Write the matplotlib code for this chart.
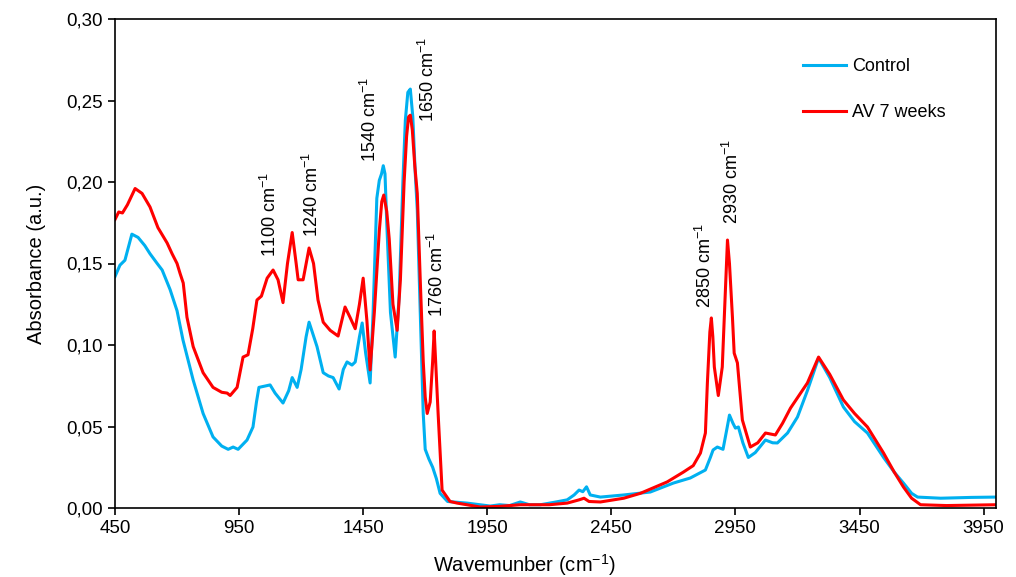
import matplotlib
matplotlib.use('Agg')
import matplotlib.pyplot as plt
from matplotlib.ticker import FuncFormatter

plt.rcParams['font.family'] = ['Liberation Sans', 'DejaVu Sans']
plt.rcParams['mathtext.fontset'] = 'custom'
plt.rcParams['mathtext.rm'] = 'Liberation Sans'
plt.rcParams['mathtext.it'] = 'Liberation Sans:italic'
plt.rcParams['mathtext.bf'] = 'Liberation Sans:bold'

# Control spectrum (wavenumber, absorbance)
wn_control = [450, 470, 490, 518, 543, 570, 591, 620, 640, 672, 700, 724, 765, 805, 845,
              880, 906, 926, 946, 982, 1006, 1020, 1030, 1060, 1075, 1095, 1127, 1150, 1164,
              1184, 1200, 1220, 1232, 1264, 1289, 1310, 1329, 1353, 1370, 1385, 1405, 1418,
              1435, 1446, 1460, 1478, 1490, 1505, 1515, 1524, 1531, 1538, 1545, 1560, 1579,
              1595, 1610, 1620, 1630, 1640, 1650, 1660, 1668, 1680, 1692, 1700, 1715, 1730,
              1745, 1760, 1790, 1869, 1962, 2000, 2040, 2083, 2120, 2164, 2220, 2272, 2300,
              2320, 2335, 2350, 2365, 2406, 2500, 2607, 2700, 2768, 2829, 2849, 2860, 2877,
              2900, 2915, 2926, 2940, 2950, 2962, 2980, 3002, 3030, 3071, 3100, 3119, 3160,
              3200, 3240, 3285, 3330, 3385, 3430, 3482, 3547, 3590, 3627, 3660, 3684, 3777,
              3900, 4000]
ab_control = [0.142, 0.149, 0.152, 0.168, 0.166, 0.161, 0.156, 0.150, 0.146, 0.134, 0.121,
              0.103, 0.0785, 0.058, 0.0436, 0.038, 0.036, 0.0374, 0.036, 0.0417, 0.0497,
              0.065, 0.074, 0.075, 0.0755, 0.0705, 0.0644, 0.072, 0.080, 0.074, 0.085, 0.105,
              0.114, 0.099, 0.083, 0.081, 0.080, 0.073, 0.085, 0.0896, 0.0877, 0.0896, 0.105,
              0.1135, 0.095, 0.0767, 0.120, 0.190, 0.201, 0.205, 0.210, 0.205, 0.175, 0.120,
              0.0926, 0.130, 0.200, 0.238, 0.255, 0.257, 0.240, 0.205, 0.183, 0.120, 0.058,
              0.036, 0.030, 0.025, 0.018, 0.009, 0.004, 0.003, 0.0012, 0.002, 0.0015, 0.0037,
              0.002, 0.002, 0.0035, 0.005, 0.008, 0.011, 0.010, 0.013, 0.008, 0.0067, 0.008,
              0.0098, 0.0153, 0.0184, 0.0233, 0.031, 0.0356, 0.0374, 0.036, 0.048, 0.057,
              0.052, 0.049, 0.0497, 0.040, 0.031, 0.034, 0.0417, 0.040, 0.0399, 0.046, 0.0558,
              0.072, 0.092, 0.080, 0.062, 0.053, 0.046, 0.031, 0.022, 0.0153, 0.009, 0.0067,
              0.006, 0.0065, 0.0067]

# AV 7 weeks spectrum
wn_av = [450, 465, 480, 500, 531, 559, 591, 623, 660, 680, 700, 712, 725, 740, 765, 805, 845,
         880, 902, 914, 942, 966, 986, 1005, 1022, 1040, 1063, 1087, 1107, 1127, 1145, 1164,
         1180, 1188, 1208, 1232, 1250, 1268, 1289, 1317, 1349, 1377, 1397, 1418, 1435, 1450,
         1465, 1478, 1495, 1515, 1525, 1533, 1545, 1555, 1570, 1587, 1600, 1615, 1625, 1633,
         1640, 1648, 1658, 1668, 1680, 1692, 1700, 1708, 1720, 1730, 1736, 1742, 1752, 1768,
         1800, 1829, 1922, 2000, 2083, 2200, 2272, 2320, 2340, 2360, 2406, 2500, 2567, 2675,
         2740, 2780, 2809, 2829, 2837, 2847, 2853, 2859, 2865, 2881, 2897, 2910, 2918, 2926,
         2938, 2945, 2958, 2978, 3010, 3040, 3071, 3111, 3140, 3172, 3240, 3285, 3330, 3385,
         3430, 3482, 3547, 3590, 3627, 3660, 3696, 3800, 4000]
ab_av = [0.177, 0.1816, 0.181, 0.186, 0.196, 0.193, 0.1847, 0.172, 0.1626, 0.156, 0.150,
         0.144, 0.138, 0.117, 0.099, 0.083, 0.074, 0.071, 0.0705, 0.069, 0.074, 0.0926, 0.094,
         0.110, 0.1276, 0.130, 0.141, 0.146, 0.140, 0.126, 0.150, 0.169, 0.150, 0.140, 0.140,
         0.1595, 0.150, 0.1276, 0.114, 0.109, 0.1055, 0.1233, 0.117, 0.110, 0.125, 0.141,
         0.115, 0.0847, 0.120, 0.170, 0.188, 0.192, 0.182, 0.165, 0.125, 0.109, 0.140, 0.200,
         0.228, 0.240, 0.241, 0.232, 0.210, 0.193, 0.140, 0.090, 0.068, 0.058, 0.065, 0.090,
         0.1086, 0.090, 0.058, 0.011, 0.004, 0.003, 0.0006, 0.001, 0.002, 0.002, 0.003, 0.005,
         0.006, 0.004, 0.0037, 0.006, 0.009, 0.016, 0.022, 0.026, 0.0337, 0.046, 0.0767,
         0.108, 0.1166, 0.105, 0.0865, 0.069, 0.0865, 0.135, 0.1644, 0.150, 0.117, 0.095,
         0.089, 0.054, 0.0374, 0.040, 0.046, 0.0448, 0.052, 0.0613, 0.0767, 0.0926, 0.082,
         0.0663, 0.058, 0.0497, 0.0337, 0.022, 0.0129, 0.006, 0.002, 0.0015, 0.002]

# peak labels: (text, x, y of the lower end of the text)
peak_labels = [('1100', 1075, 0.154), ('1240', 1245, 0.166), ('1540', 1478, 0.212),
               ('1650', 1712, 0.237), ('1760', 1748, 0.117), ('2850', 2829, 0.123),
               ('2930', 2934, 0.174)]

x_ticks = [450, 950, 1450, 1950, 2450, 2950, 3450, 3950]

fig = plt.figure(figsize=(10.16, 5.77), dpi=100)
ax = fig.add_axes([115 / 1016, 69 / 577, 881 / 1016, 489 / 577])

ax.plot(wn_control, ab_control, color='#00B0F0', lw=2.2, label='Control')
ax.plot(wn_av, ab_av, color='#FF0000', lw=2.2, label='AV 7 weeks')

for txt, x, y in peak_labels:
    ax.text(x, y, txt + ' cm$^{-1}$', rotation=90, ha='center', va='bottom', fontsize=13)

ax.set_xlim(450, 4000)
ax.set_ylim(0, 0.30)
ax.set_xticks(x_ticks)
ax.set_yticks([0, 0.05, 0.10, 0.15, 0.20, 0.25, 0.30])
ax.yaxis.set_major_formatter(FuncFormatter(lambda v, p: f'{v:.2f}'.replace('.', ',')))
ax.tick_params(direction='out', length=5, width=1.2, labelsize=13.5, color='black')
for s in ax.spines.values():
    s.set_linewidth(1.2)

ax.set_xlabel('Wavemunber (cm$^{-1}$)', fontsize=14.5)
ax.set_ylabel('Absorbance (a.u.)', fontsize=14.5)
ax.xaxis.set_label_coords(0.465, -0.09)
ax.yaxis.set_label_coords(-0.078, 0.5)

ax.legend(loc='upper left', bbox_to_anchor=(0.781, 0.92), frameon=False, fontsize=13,
          handlelength=2.4, handletextpad=0.3, labelspacing=1.6, borderpad=0,
          borderaxespad=0)

fig.savefig('out.png', dpi=100)
